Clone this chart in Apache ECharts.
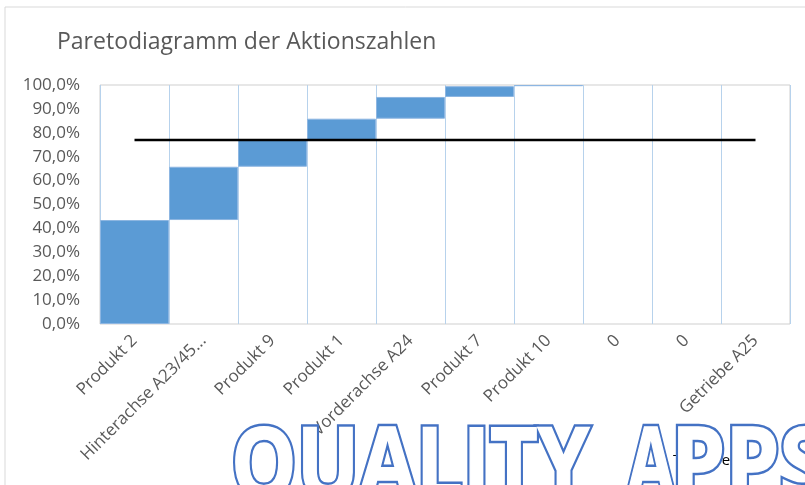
<!DOCTYPE html>
<html>
<head>
<meta charset="utf-8">
<script src="https://cdn.jsdelivr.net/npm/echarts@6/dist/echarts.min.js"></script>
<style>
html, body { margin: 0; padding: 0; background: #fff; }
#pareto { width: 805px; height: 485px; }
</style>
</head>
<body>
<div id="pareto"></div>
<script>
// Kategorien und Anteile (in %)
var kategorien = ['Produkt 2', 'Hinterachse A23/45...', 'Produkt 9', 'Produkt 1', 'Vorderachse A24',
                  'Produkt 7', 'Produkt 10', '0', '0', 'Getriebe A25'];
var anteile = [43.5, 22.3, 11.2, 8.9, 9.1, 4.5, 0.5, 0, 0, 0];
var grenzwert = [77, 77, 77, 77, 77, 77, 77, 77, 77, 77];
var yTicks = [0, 10, 20, 30, 40, 50, 60, 70, 80, 90, 100];

// Sockel = kumulierte Summe der vorherigen Anteile
var sockel = [];
var summe = 0;
for (var i = 0; i < anteile.length; i++) {
    sockel.push(+summe.toFixed(1));
    summe += anteile[i];
}
// leere Balken nicht zeichnen (sonst Randlinie bei 100%)
var balken = anteile.map(function (v) { return v === 0 ? '-' : v; });

var myChart = echarts.init(document.getElementById('pareto'));

// Wasserzeichen: blaue Kontur + weisse Fuellung, zwei Lagen
function wasserzeichen(text, x, sx) {
    var basis = { text: text, font: 'bold 96px "Open Sans"', verticalAlign: 'middle' };
    return [
        {
            type: 'text', x: x, y: 470, scaleX: sx, z: 101,
            style: echarts.util.extend({ fill: '#4472c4', stroke: '#4472c4', lineWidth: 6.5 }, basis)
        },
        {
            type: 'text', x: x, y: 470, scaleX: sx, z: 102,
            style: echarts.util.extend({ fill: '#ffffff', stroke: '#ffffff', lineWidth: 1.5 }, basis)
        }
    ];
}

var option = {
    animation: false,
    textStyle: { fontFamily: 'Open Sans' },
    title: {
        text: 'Paretodiagramm der Aktionszahlen',
        left: 52,
        top: 26,
        textStyle: { fontSize: 23, fontWeight: 'normal', color: '#595959' }
    },
    grid: {
        left: 100,
        right: 15,
        top: 85,
        bottom: 161,
        show: true,
        borderColor: '#cfcfcf',
        borderWidth: 1
    },
    xAxis: {
        type: 'category',
        data: kategorien,
        axisLine: { show: false },
        axisTick: { show: false },
        axisLabel: { interval: 0, rotate: 45, fontSize: 17, color: '#595959', margin: 14 },
        splitLine: { show: true, lineStyle: { color: '#b7d2ec', width: 1 } }
    },
    yAxis: {
        type: 'value',
        min: yTicks[0],
        max: yTicks[yTicks.length - 1],
        interval: 10,
        axisLine: { show: false },
        axisTick: { show: false },
        splitLine: { show: false },
        axisLabel: {
            fontSize: 17,
            color: '#595959',
            margin: 20,
            formatter: function (v) { return v.toFixed(1).replace('.', ',') + '%'; }
        }
    },
    graphic: [
        {
            type: 'rect',
            shape: { x: 5, y: 7, width: 830, height: 500 },
            style: { fill: 'none', stroke: '#d9d9d9', lineWidth: 1 },
            z: 0
        },
        {
            type: 'text',
            x: 673, y: 461,
            style: { text: 'Trendverzug', font: '15px "Open Sans"', fill: '#000', verticalAlign: 'middle' },
            z: 100
        }
    ].concat(
        wasserzeichen('QUALITY', 231, 0.86),
        wasserzeichen('A', 627, 0.72),
        wasserzeichen('PPS', 671, 0.9)
    ),
    series: [
        {
            name: 'Sockel',
            type: 'bar',
            stack: 'pareto',
            barCategoryGap: 0,
            itemStyle: { color: 'transparent' },
            data: sockel
        },
        {
            name: 'Anteil',
            type: 'bar',
            stack: 'pareto',
            barCategoryGap: 0,
            itemStyle: { color: '#5b9bd5', borderColor: '#8db6e2', borderWidth: 1 },
            data: balken
        },
        {
            name: 'Grenze',
            type: 'line',
            symbol: 'none',
            lineStyle: { color: '#000', width: 2.5 },
            data: grenzwert,
            z: 5
        }
    ]
};

myChart.setOption(option);
window.onresize = function () { myChart.resize(); };
</script>
</body>
</html>
